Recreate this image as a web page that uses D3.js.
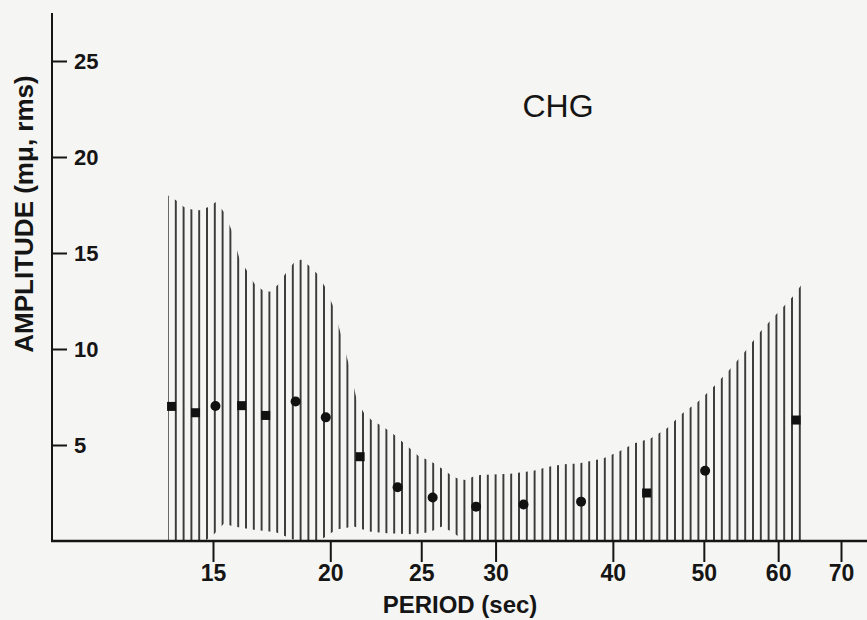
<!DOCTYPE html>
<html>
<head>
<meta charset="utf-8">
<script src="https://cdn.jsdelivr.net/npm/d3@7"></script>
<style>
  body { margin: 0; background: #f5f5f3; }
  svg text { font-family: "Liberation Sans", Arial, sans-serif; fill: #151515; }
</style>
</head>
<body>
<div id="chart"></div>
<script>
// measured amplitudes (mμ rms) at each period
const periods = [13.55, 14.37, 15.09, 16.09, 17.07, 18.37, 19.78, 21.52, 23.59, 25.71, 28.6, 32.13, 37.0, 43.45, 50.16, 62.7];
const amplitudes = [7.01, 6.68, 7.03, 7.05, 6.54, 7.27, 6.44, 4.39, 2.80, 2.27, 1.79, 1.90, 2.05, 2.50, 3.66, 6.30];
const shapes = ['square', 'square', 'circle', 'square', 'square', 'circle', 'circle', 'square',
    'circle', 'circle', 'circle', 'circle', 'circle', 'square', 'circle', 'square'];

// upper edge of the hatched band
const upperPeriods = [13.44, 13.70, 13.97, 14.24, 14.53, 14.83, 15.11, 15.41, 15.70, 16.0, 16.29, 16.6, 16.93, 17.25,
    17.58, 17.93, 18.27, 18.62, 19.0, 19.38, 19.74, 20.15, 20.54, 20.95, 21.34, 21.75, 22.18, 22.6, 23.03, 23.49,
    23.93, 24.39, 24.85, 25.34, 25.82, 26.31, 26.79, 27.32, 27.84, 28.38, 28.89, 31.11, 32.93, 34.16, 35.44, 36.77,
    37.53, 39.04, 40.56, 42.18, 43.92, 45.68, 47.46, 49.29, 51.21, 53.22, 55.26, 57.43, 59.83, 62.17, 63.51];
const upperValues = [18.0, 17.75, 17.4, 17.27, 17.23, 17.4, 17.66, 17.14, 16.19, 14.72, 14.1, 13.41, 13.07, 12.98,
    13.33, 13.94, 14.46, 14.66, 14.32, 13.9, 13.24, 12.2, 10.72, 9.11, 7.34, 6.61, 6.26, 6.04, 5.78, 5.47,
    5.12, 4.77, 4.42, 4.25, 4.04, 3.76, 3.49, 3.26, 3.18, 3.35, 3.44, 3.5, 3.66, 3.87, 4.0, 4.04,
    4.13, 4.3, 4.65, 5.09, 5.35, 5.87, 6.65, 7.25, 8.03, 8.9, 9.85, 10.9, 11.85, 12.72, 13.33];

// lower edge (lines stop short of the axis in places)
const lowerPeriods = [13.44, 14.7, 15.0, 15.4, 15.8, 16.5, 17.5, 18.2, 18.5, 19.2, 19.6, 20.3, 21.2, 22.0, 23.0,
    24.5, 25.5, 26.3, 27.0, 27.8, 63.51];
const lowerValues = [0, 0, 0.3, 0.9, 0.75, 0.6, 0.45, 0.1, 0, 0, 0.1, 0.6, 0.75, 0.5, 0.4,
    0.35, 0.45, 0.75, 0.45, 0, 0];

const xTicks = [15, 20, 25, 30, 40, 50, 60, 70];
const yTicks = [5, 10, 15, 20, 25];

const width = 867, height = 620;
const svg = d3.select('#chart').append('svg')
    .attr('width', width)
    .attr('height', height);

svg.append('rect').attr('width', width).attr('height', height).attr('fill', '#f5f5f3');

const xScale = d3.scaleLog().domain([15, 70]).range([213, 841]);
const yScale = d3.scaleLinear().domain([0, 27.5]).range([541, 13]);

// vertical hatching
const hatchW = 7.8;
const pat = svg.append('defs').append('pattern')
    .attr('id', 'hatch')
    .attr('patternUnits', 'userSpaceOnUse')
    .attr('x', 168 - hatchW / 2)
    .attr('y', 0)
    .attr('width', hatchW)
    .attr('height', 10);
pat.append('line')
    .attr('x1', hatchW / 2).attr('x2', hatchW / 2)
    .attr('y1', 0).attr('y2', 10)
    .attr('stroke', '#363636')
    .attr('stroke-width', 1.9);

const upperPts = upperPeriods.map((p, i) => [xScale(p), yScale(upperValues[i])]);
const lowerPts = lowerPeriods.map((p, i) => [xScale(p), yScale(lowerValues[i])]).reverse();
const band = d3.line()(upperPts.concat(lowerPts)) + 'Z';

svg.append('path')
    .attr('d', band)
    .attr('fill', 'url(#hatch)');

// axes
svg.append('line')
    .attr('x1', 52).attr('x2', 52)
    .attr('y1', yScale(27.5)).attr('y2', yScale(0))
    .attr('stroke', '#151515').attr('stroke-width', 2);
svg.append('line')
    .attr('x1', 51).attr('x2', width)
    .attr('y1', yScale(0)).attr('y2', yScale(0))
    .attr('stroke', '#151515').attr('stroke-width', 2.5);

const xAxis = svg.append('g')
    .attr('transform', `translate(0,${yScale(0)})`)
    .call(d3.axisBottom(xScale).tickValues(xTicks).tickFormat(d3.format('d')).tickSize(21).tickPadding(3));
xAxis.select('.domain').remove();
xAxis.selectAll('line').attr('stroke', '#151515').attr('stroke-width', 2);
xAxis.selectAll('text')
    .attr('font-size', 23).attr('font-weight', 'bold')
    .attr('font-family', '"Liberation Sans", Arial, sans-serif')
    .attr('fill', '#151515');

const yAxis = svg.append('g')
    .attr('transform', 'translate(52,0)')
    .call(d3.axisRight(yScale).tickValues(yTicks).tickSize(15).tickPadding(7));
yAxis.select('.domain').remove();
yAxis.selectAll('line').attr('stroke', '#151515').attr('stroke-width', 2);
yAxis.selectAll('text')
    .attr('font-size', 22).attr('font-weight', 'bold')
    .attr('font-family', '"Liberation Sans", Arial, sans-serif')
    .attr('fill', '#151515');

// data points
const pts = periods.map((p, i) => ({p: p, a: amplitudes[i], s: shapes[i]}));
svg.selectAll('.sq')
    .data(pts.filter(d => d.s === 'square'))
    .enter().append('rect')
    .attr('class', 'sq')
    .attr('x', d => xScale(d.p) - 4.5)
    .attr('y', d => yScale(d.a) - 4.5)
    .attr('width', 9).attr('height', 9)
    .attr('fill', '#111');
svg.selectAll('.dot')
    .data(pts.filter(d => d.s === 'circle'))
    .enter().append('circle')
    .attr('class', 'dot')
    .attr('cx', d => xScale(d.p))
    .attr('cy', d => yScale(d.a))
    .attr('r', 5)
    .attr('fill', '#111');

// labels
svg.append('text')
    .attr('x', 558).attr('y', 117)
    .attr('text-anchor', 'middle')
    .attr('font-size', 32)
    .text('CHG');

svg.append('text')
    .attr('x', 460).attr('y', 613)
    .attr('text-anchor', 'middle')
    .attr('font-size', 24).attr('font-weight', 'bold')
    .text('PERIOD (sec)');

svg.append('text')
    .attr('transform', 'translate(33,214) rotate(-90)')
    .attr('text-anchor', 'middle')
    .attr('font-size', 26).attr('font-weight', 'bold')
    .text('AMPLITUDE (mμ, rms)');
</script>
</body>
</html>
